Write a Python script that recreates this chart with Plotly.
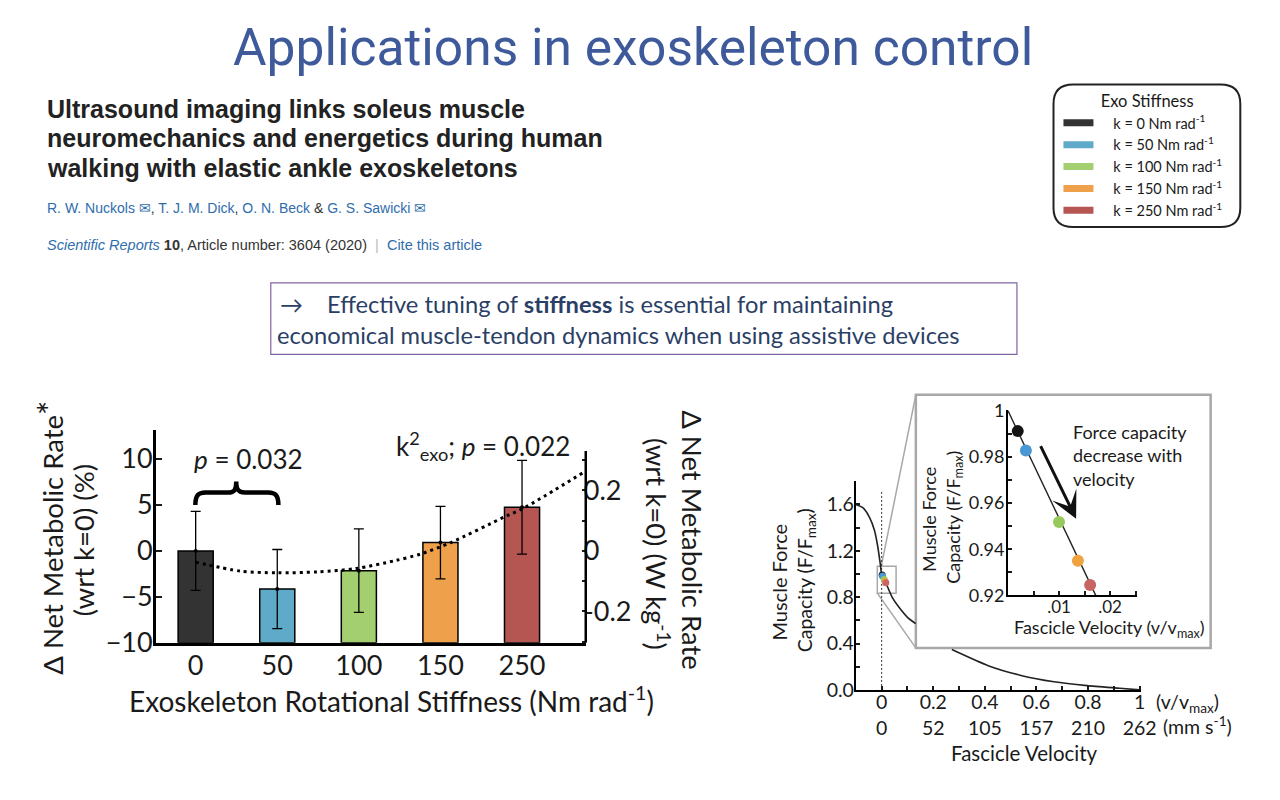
import plotly.graph_objects as go

W, H = 1280, 800


def px(x):
    return x / W


def py(y):
    return 1 - y / H


# ---------------- data: metabolic bar chart ----------------
stiffness = ["0", "50", "100", "150", "250"]
metab_mean = [0.0, -4.15, -2.15, 0.9, 4.75]
metab_err = [4.3, 4.3, 4.55, 3.95, 5.1]
bar_colors = ["#333333", "#5EAAC8", "#A4CF70", "#EEA04B", "#B55652"]
BAR_BASE = -10
# dotted quadratic trend (x in category-slot units)
fit_x = [0.0, 0.55, 1.0, 1.5, 1.96, 2.45, 2.75, 3.13, 3.78, 4.01, 4.75]
fit_y = [-1.23, -2.2, -2.39, -2.28, -1.93, -1.05, -0.36, 0.91, 3.68, 4.6, 8.52]
left_ticks = [-10, -5, 0, 5, 10]
right_ticks = [-0.3, -0.2, -0.1, 0.0, 0.1, 0.2, 0.3]
right_ticktext = ["", "-0.2", "", "0", "", "0.2", ""]

# ---------------- data: force-velocity ----------------
fv_vel = [-0.1, -0.073, -0.047, -0.028, -0.0153, -0.0061, 0.0, 0.0169, 0.042, 0.068, 0.1, 0.132,
          None, 0.272, 0.413, 0.54, 0.668, 0.796, 0.923, 1.0]
fv_force = [1.6, 1.573, 1.489, 1.377, 1.239, 1.099, 1.0, 0.92, 0.793, 0.71, 0.626, 0.571,
            None, 0.348, 0.209, 0.125, 0.07, 0.037, 0.014, 0.0]
exo_vel = [0.0019, 0.0035, 0.0100, 0.0137, 0.0161]
exo_force = [0.9912, 0.9828, 0.9518, 0.9350, 0.9245]
dot_colors = ["#141414", "#4A98D3", "#98C95C", "#F0A23E", "#C86464"]
inset_line_vel = [0.0, 0.0172]
inset_line_force = [1.0, 0.92]
vel_ticks = [round(0.1 * i, 1) for i in range(11)]
vel_ticktext = ["0<br>0", "", "0.2<br>52", "", "0.4<br>105", "", "0.6<br>157", "", "0.8<br>210", "", "1<br>262"]
force_ticks = [round(0.2 * i, 1) for i in range(10)]
force_ticktext = ["0.0", "", "0.4", "", "0.8", "", "1.2", "", "1.6", ""]
inset_xticks = [0.005, 0.01, 0.015, 0.02, 0.025]
inset_xticktext = ["", ".01", "", ".02", ""]
inset_yticks = [0.92, 0.93, 0.94, 0.95, 0.96, 0.97, 0.98, 0.99, 1.0]
inset_yticktext = ["0.92", "", "0.94", "", "0.96", "", "0.98", "", "1"]
legend_labels = ["k = 0 Nm rad<sup>-1</sup>", "k = 50 Nm rad<sup>-1</sup>", "k = 100 Nm rad<sup>-1</sup>",
                 "k = 150 Nm rad<sup>-1</sup>", "k = 250 Nm rad<sup>-1</sup>"]

CF = "Lato, Open Sans, sans-serif"
INK = "#1a1a1a"

fig = go.Figure()

# bars (drawn up from the bottom of the axis)
pos = list(range(len(stiffness)))
bar_len = [m - BAR_BASE for m in metab_mean]
fig.add_trace(go.Bar(
    x=pos, y=bar_len, base=BAR_BASE, width=0.43,
    marker=dict(color=bar_colors, line=dict(color="black", width=1.5)),
    xaxis="x", yaxis="y", showlegend=False, hoverinfo="skip"))
fig.add_trace(go.Scatter(
    x=pos, y=metab_mean, mode="markers", marker=dict(size=4, color="black"),
    error_y=dict(type="data", array=metab_err, color="black", thickness=1.3, width=5),
    xaxis="x", yaxis="y", showlegend=False, hoverinfo="skip"))
fig.add_trace(go.Scatter(
    x=fit_x, y=fit_y, mode="lines",
    line=dict(color="black", width=3, dash="3px,4px", shape="spline", smoothing=0.8),
    xaxis="x", yaxis="y", showlegend=False, hoverinfo="skip"))
# invisible trace to activate the right axis
fig.add_trace(go.Scatter(x=[None], y=[None], xaxis="x", yaxis="y2", showlegend=False))

# force-velocity main
fig.add_trace(go.Scatter(
    x=fv_vel, y=fv_force, mode="lines",
    line=dict(color="#222", width=1.6, shape="spline", smoothing=0.6),
    xaxis="x2", yaxis="y3", showlegend=False, hoverinfo="skip"))
fig.add_trace(go.Scatter(
    x=exo_vel, y=exo_force, mode="markers",
    marker=dict(size=7, color=dot_colors),
    xaxis="x2", yaxis="y3", showlegend=False, hoverinfo="skip"))

# inset
fig.add_trace(go.Scatter(
    x=inset_line_vel, y=inset_line_force, mode="lines", line=dict(color="#222", width=1.4),
    xaxis="x3", yaxis="y4", showlegend=False, hoverinfo="skip"))
fig.add_trace(go.Scatter(
    x=exo_vel, y=exo_force, mode="markers",
    marker=dict(size=12, color=dot_colors),
    xaxis="x3", yaxis="y4", showlegend=False, hoverinfo="skip"))

# legend entries
PAD = "\u00a0\u00a0\u00a0\u00a0"
for lab, col in zip(legend_labels, bar_colors):
    fig.add_trace(go.Scatter(x=[None], y=[None], mode="lines", line=dict(color=col, width=7),
                             name=PAD + lab, xaxis="x2", yaxis="y3", showlegend=True))

# ---------------- axes ----------------
L_RANGE = [-10, 13.16]
R_SCALE = 0.03035
axis_common = dict(showgrid=False, zeroline=False, color=INK)

fig.update_layout(
    xaxis=dict(domain=[px(157.7), px(592.7)], range=[-0.488, 4.781], anchor="y",
               tickvals=pos, ticktext=stiffness, ticks="", showline=True, linewidth=2.5,
               linecolor="black", tickfont=dict(family=CF, size=27, color=INK),
               ticklabelstandoff=-3, **axis_common),
    yaxis=dict(domain=[py(653), py(433)], range=L_RANGE, anchor="x",
               tickvals=left_ticks, ticks="inside", ticklen=6, tickwidth=2, showline=True,
               linewidth=2.5, linecolor="black", tickfont=dict(family=CF, size=27, color=INK),
               ticklabelstandoff=-5, **axis_common),
    yaxis2=dict(overlaying="y", side="right", anchor="x",
                range=[L_RANGE[0] * R_SCALE, L_RANGE[1] * R_SCALE],
                tickvals=right_ticks, ticktext=right_ticktext, ticks="inside", ticklen=4,
                tickwidth=2, showline=False, tickfont=dict(family=CF, size=27, color=INK),
                ticklabelstandoff=-3, **axis_common),
    xaxis2=dict(domain=[px(866), px(1155)], range=[-0.1, 1.007], anchor="y3",
                tickvals=vel_ticks, ticktext=vel_ticktext, ticks="inside", ticklen=4, tickwidth=1.5,
                showline=True, linewidth=2, linecolor="black",
                tickfont=dict(family=CF, size=19.5, color=INK), ticklabelstandoff=-6, **axis_common),
    yaxis3=dict(domain=[py(701.7), py(486)], range=[0, 1.8], anchor="x2",
                tickvals=force_ticks, ticktext=force_ticktext, ticks="inside", ticklen=4, tickwidth=1.5,
                showline=True, linewidth=2, linecolor="black",
                tickfont=dict(family=CF, size=19.5, color=INK), ticklabelstandoff=-4, **axis_common),
    xaxis3=dict(domain=[px(1020), px(1150)], range=[0, 0.0252], anchor="y4",
                tickvals=inset_xticks, ticktext=inset_xticktext, ticks="inside", ticklen=4, tickwidth=1.5,
                showline=True, linewidth=2, linecolor="black",
                tickfont=dict(family=CF, size=17, color=INK), ticklabelstandoff=-5, **axis_common),
    yaxis4=dict(domain=[py(604), py(412.3)], range=[0.92, 1.0004], anchor="x3",
                tickvals=inset_yticks, ticktext=inset_yticktext, ticks="inside", ticklen=4, tickwidth=1.5,
                showline=True, linewidth=2, linecolor="black",
                tickfont=dict(family=CF, size=18, color=INK), ticklabelstandoff=-2, **axis_common),
)

# ---------------- shapes ----------------
def rrect(x0, y0, x1, y1, r):
    pts = [
        ("M", [(x0 + r, y0)]), ("L", [(x1 - r, y0)]), ("Q", [(x1, y0), (x1, y0 + r)]),
        ("L", [(x1, y1 - r)]), ("Q", [(x1, y1), (x1 - r, y1)]), ("L", [(x0 + r, y1)]),
        ("Q", [(x0, y1), (x0, y1 - r)]), ("L", [(x0, y0 + r)]), ("Q", [(x0, y0), (x0 + r, y0)]),
    ]
    s = ""
    for cmd, ps in pts:
        s += cmd + " " + " ".join(f"{px(a):.5f},{py(b):.5f}" for a, b in ps) + " "
    return s + "Z"


shapes = []
# right axis line of bar chart (shorter than plot height)
shapes.append(dict(type="line", xref="paper", yref="y2", x0=px(592.7), x1=px(592.7),
                   y0=L_RANGE[0] * R_SCALE, y1=0.33, line=dict(color="black", width=2.5)))
# curly brace
brace = ("M -0.004,5.0 C -0.004,6.0 0.03,6.35 0.12,6.35 L 0.40,6.35 "
         "C 0.47,6.35 0.497,6.6 0.497,7.55 C 0.497,6.6 0.53,6.35 0.60,6.35 "
         "L 0.89,6.35 C 0.98,6.35 1.014,6.0 1.014,5.0")
shapes.append(dict(type="path", xref="x", yref="y", path=brace, line=dict(color="black", width=4.5)))
# inset panel
shapes.append(dict(type="rect", xref="paper", yref="paper", x0=px(926.7), x1=px(1225),
                   y0=py(658.3), y1=py(396.7), fillcolor="white", line=dict(color="#A8A8A8", width=2.5),
                   layer="below"))
# zoom box + connectors
shapes.append(dict(type="rect", xref="paper", yref="paper", x0=px(887.7), x1=px(906.7),
                   y0=py(601.7), y1=py(574), line=dict(color="#A8A8A8", width=1.5), layer="below"))
shapes.append(dict(type="line", xref="paper", yref="paper", x0=px(891.7), y0=py(574),
                   x1=px(926.7), y1=py(396.7), line=dict(color="#A8A8A8", width=1.5), layer="below"))
shapes.append(dict(type="line", xref="paper", yref="paper", x0=px(887.7), y0=py(601.7),
                   x1=px(926.7), y1=py(658.3), line=dict(color="#A8A8A8", width=1.5), layer="below"))
# dotted zero-velocity line
shapes.append(dict(type="line", xref="x2", yref="y3", x0=0, x1=0, y0=0, y1=1.725,
                   line=dict(color="#333", width=1, dash="2px,2px"), layer="below"))
# legend frame
shapes.append(dict(type="path", xref="paper", yref="paper", path=rrect(1066, 76, 1255, 223.3, 20),
                   line=dict(color="#222", width=2)))
# message box
shapes.append(dict(type="rect", xref="paper", yref="paper", x0=px(274), x1=px(1029),
                   y0=py(355), y1=py(281), line=dict(color="#8064A2", width=1.2)))
fig.update_layout(shapes=shapes)

# ---------------- annotations ----------------
ann = []


def text(x, y, s, size, color=INK, family=CF, xanchor="center", yanchor="middle", angle=0, align="center"):
    ann.append(dict(x=px(x), y=py(y), xref="paper", yref="paper", text=s, showarrow=False,
                    xanchor=xanchor, yanchor=yanchor, textangle=angle, align=align,
                    font=dict(size=size, color=color, family=family)))


# slide title
text(640, 38, "Applications in exoskeleton control", 51.5, color="#3E5A9B", family="Roboto, sans-serif")
# article header
AF = "Liberation Sans, Arial, sans-serif"
text(46, 101, "<b>Ultrasound imaging links soleus muscle</b>", 25, color="#222", family=AF, xanchor="left")
text(46, 131, "<b>neuromechanics and energetics during human</b>", 25, color="#222", family=AF, xanchor="left")
text(46, 162, "<b>walking with elastic ankle exoskeletons</b>", 25, color="#222", family=AF, xanchor="left")
BL = "#2F6DAB"
auth = (f"<span style='color:{BL}'>R. W. Nuckols\u00a0✉</span>, <span style='color:{BL}'>T. J. M. Dick</span>, "
        f"<span style='color:{BL}'>O. N. Beck</span> & <span style='color:{BL}'>G. S. Sawicki\u00a0✉</span>")
text(46, 204, auth, 14, color="#333", family=AF, xanchor="left")
jour = (f"<span style='color:{BL}'><i>Scientific Reports</i></span> <b>10</b>, Article number: 3604 (2020)"
        f"\u00a0\u00a0<span style='color:#BBBBBB'>|</span>\u00a0\u00a0<span style='color:{BL}'>Cite this article</span>")
text(46, 242, jour, 14.5, color="#333", family=AF, xanchor="left")
# message box text
MF = "Lato, Open Sans, sans-serif"
MC = "#2B3F66"
text(281, 303, "→", 23, color=MC, family=MF, xanchor="left")
text(329, 303, "Effective tuning of <b>stiffness</b> is essential for maintaining", 23.7, color=MC,
     family=MF, xanchor="left")
text(278, 335, "economical muscle-tendon dynamics when using assistive devices", 23.7, color=MC,
     family=MF, xanchor="left")

# bar chart titles
text(50, 544, "Δ Net Metabolic Rate<span style='font-size:34px'>*</span>", 27.5, angle=-90)
text(84, 547, "(wrt k=0) (%)", 27.5, angle=-90)
text(700, 546.7, "Δ Net Metabolic Rate", 27.5, angle=90)
text(666, 551, "(wrt k=0) (W kg<sup>-1</sup>)", 27.5, angle=90)
text(396.5, 711.7, "Exoskeleton Rotational Stiffness (Nm rad<sup>-1</sup>)", 28)
text(251.5, 463, "<i>p</i> = 0.032", 26)
text(488.5, 450, "k<sup>2</sup><sub>exo</sub>; <i>p</i> = 0.022", 26)

# force-velocity titles
text(788, 590, "Muscle Force", 20, angle=-90)
text(815, 588, "Capacity (F/F<sub>max</sub>)", 19.5, angle=-90)
text(1168, 715, "(v/v<sub>max</sub>)", 19.5, xanchor="left")
text(1175, 738, "(mm s<sup>-1</sup>)", 19.5, xanchor="left")
text(1036.7, 767, "Fascicle Velocity", 20.5)
text(940, 525, "Muscle Force", 18, angle=-90)
text(965, 523, "Capacity (F/F<sub>max</sub>)", 18, angle=-90)
text(1122.7, 638, "Fascicle Velocity (v/v<sub>max</sub>)", 18)
text(1084, 459, "Force capacity<br>decrease with<br>velocity", 18, xanchor="left", align="left")
ann.append(dict(xref="x3", yref="y4", axref="x3", ayref="y4", x=0.01335, y=0.9532, ax=0.00625, ay=0.98532,
                showarrow=True, arrowhead=3, arrowsize=1.5, arrowwidth=3, arrowcolor="#111",
                standoff=0, text=""))
fig.update_layout(annotations=ann)

fig.update_layout(
    width=W, height=H, margin=dict(l=0, r=0, t=0, b=0),
    paper_bgcolor="white", plot_bgcolor="white",
    showlegend=True,
    legend=dict(x=px(1071), y=py(77), xanchor="left", yanchor="top", bgcolor="rgba(0,0,0,0)",
                borderwidth=0, font=dict(family=CF, size=14.5, color=INK), itemwidth=30,
                title=dict(text="\u00a0\u00a0Exo Stiffness", side="top center",
                           font=dict(family=CF, size=16.5, color=INK)),
                tracegroupgap=0, itemclick=False),
)

fig.write_html("out.html")
